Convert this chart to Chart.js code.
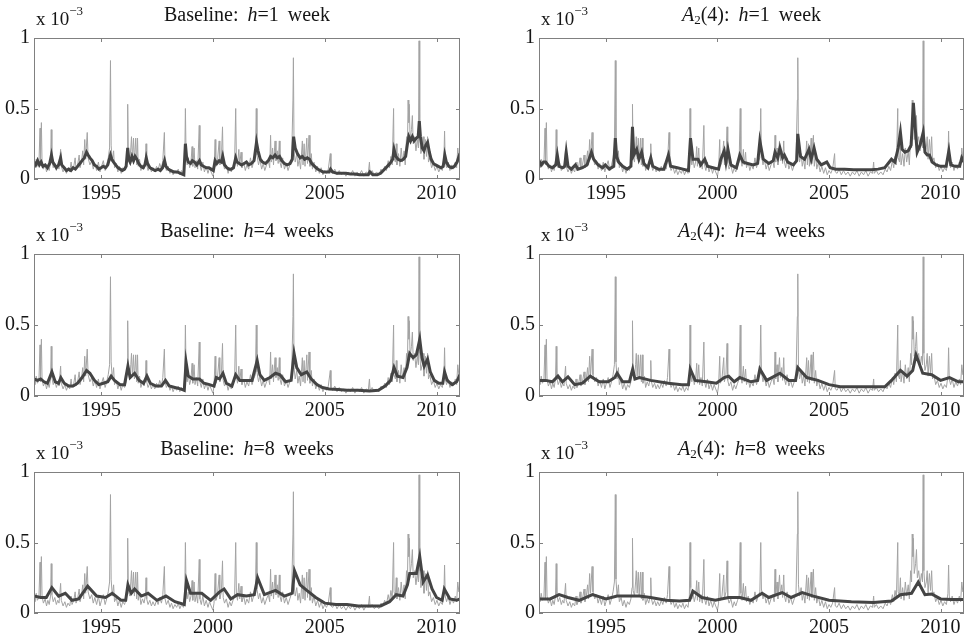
<!DOCTYPE html>
<html>
<head>
<meta charset="utf-8">
<script src="https://cdn.jsdelivr.net/npm/chart.js@4.4.1/dist/chart.umd.min.js"></script>
<style>
  html, body { margin: 0; padding: 0; background: #fff; }
  #wrap { position: relative; width: 966px; height: 640px; overflow: hidden; }
  #wrap canvas { position: absolute; }
  .ttl, .exp { position: absolute; font-family: "Liberation Serif", "DejaVu Serif", serif; font-size: 20px; line-height: 20px; color: #151515; white-space: nowrap; }
  .ttl { text-align: center; word-spacing: 4px; }
  .ttl i { font-style: italic; }
  .ttl sub { font-size: 13px; vertical-align: -3px; line-height: 0; }
  .exp { font-size: 19px; }
  .exp sup { font-size: 13px; position: relative; top: -10px; vertical-align: baseline; line-height: 0; }
</style>
</head>
<body>
<div id="wrap"></div>
<script>
// values in units of 1e-3, x in decimal years
const yearTicks = [1995, 2000, 2005, 2010];
const valueTicks = [0, 0.5, 1];

// realized series (grey, same in every panel)
const realized = [
  [1992.00, 0.12], [1992.05, 0.08], [1992.10, 0.14], [1992.15, 0.09], [1992.22, 0.11], [1992.27, 0.36],
  [1992.29, 0.10], [1992.33, 0.40], [1992.36, 0.12], [1992.42, 0.07], [1992.50, 0.10], [1992.56, 0.05],
  [1992.62, 0.09], [1992.68, 0.06], [1992.74, 0.12], [1992.77, 0.35], [1992.80, 0.13], [1992.86, 0.08],
  [1992.93, 0.11], [1993.00, 0.06], [1993.06, 0.09], [1993.12, 0.07], [1993.19, 0.21], [1993.22, 0.09],
  [1993.30, 0.05], [1993.38, 0.08], [1993.45, 0.04], [1993.52, 0.07], [1993.60, 0.05], [1993.66, 0.12],
  [1993.70, 0.06], [1993.78, 0.09], [1993.84, 0.15], [1993.88, 0.07], [1993.95, 0.10], [1994.02, 0.17],
  [1994.06, 0.08], [1994.12, 0.12], [1994.18, 0.20], [1994.22, 0.10], [1994.27, 0.28], [1994.31, 0.14],
  [1994.38, 0.33], [1994.42, 0.15], [1994.50, 0.10], [1994.58, 0.13], [1994.65, 0.07], [1994.72, 0.11],
  [1994.80, 0.06], [1994.88, 0.12], [1994.95, 0.05], [1995.02, 0.09], [1995.10, 0.13], [1995.18, 0.06],
  [1995.25, 0.10], [1995.32, 0.15], [1995.38, 0.22], [1995.42, 0.84], [1995.45, 0.24], [1995.50, 0.12],
  [1995.56, 0.20], [1995.60, 0.08], [1995.68, 0.11], [1995.75, 0.05], [1995.82, 0.09], [1995.90, 0.04],
  [1995.97, 0.08], [1996.05, 0.06], [1996.12, 0.10], [1996.17, 0.18], [1996.19, 0.53], [1996.22, 0.16],
  [1996.28, 0.12], [1996.33, 0.22], [1996.36, 0.30], [1996.40, 0.14], [1996.45, 0.29], [1996.49, 0.12],
  [1996.55, 0.29], [1996.59, 0.10], [1996.63, 0.29], [1996.66, 0.09], [1996.72, 0.14], [1996.78, 0.06],
  [1996.85, 0.10], [1996.92, 0.07], [1996.98, 0.12], [1997.01, 0.25], [1997.04, 0.10], [1997.10, 0.06],
  [1997.18, 0.09], [1997.25, 0.05], [1997.32, 0.08], [1997.40, 0.05], [1997.48, 0.09], [1997.55, 0.06],
  [1997.62, 0.11], [1997.70, 0.07], [1997.76, 0.13], [1997.83, 0.33], [1997.86, 0.10], [1997.92, 0.06],
  [1998.00, 0.09], [1998.08, 0.04], [1998.15, 0.07], [1998.22, 0.03], [1998.30, 0.06], [1998.38, 0.04],
  [1998.45, 0.07], [1998.52, 0.03], [1998.60, 0.06], [1998.68, 0.04], [1998.74, 0.12], [1998.77, 0.50],
  [1998.80, 0.18], [1998.85, 0.10], [1998.90, 0.15], [1998.96, 0.08], [1999.02, 0.12], [1999.07, 0.23],
  [1999.10, 0.09], [1999.16, 0.22], [1999.20, 0.08], [1999.26, 0.13], [1999.32, 0.07], [1999.39, 0.38],
  [1999.42, 0.10], [1999.48, 0.06], [1999.55, 0.12], [1999.62, 0.05], [1999.70, 0.09], [1999.78, 0.04],
  [1999.85, 0.08], [1999.92, 0.05], [2000.00, 0.02], [2000.05, 0.07], [2000.10, 0.28], [2000.13, 0.09],
  [2000.20, 0.12], [2000.28, 0.27], [2000.31, 0.10], [2000.38, 0.15], [2000.43, 0.37], [2000.46, 0.11],
  [2000.52, 0.07], [2000.60, 0.10], [2000.68, 0.04], [2000.75, 0.08], [2000.82, 0.05], [2000.90, 0.09],
  [2000.97, 0.12], [2001.02, 0.50], [2001.05, 0.14], [2001.10, 0.09], [2001.16, 0.21], [2001.20, 0.10],
  [2001.26, 0.19], [2001.30, 0.08], [2001.38, 0.12], [2001.45, 0.06], [2001.52, 0.10], [2001.60, 0.07],
  [2001.68, 0.15], [2001.75, 0.08], [2001.82, 0.12], [2001.90, 0.15], [2001.94, 0.50], [2001.97, 0.17],
  [2002.04, 0.10], [2002.10, 0.14], [2002.18, 0.07], [2002.25, 0.11], [2002.32, 0.06], [2002.40, 0.10],
  [2002.48, 0.13], [2002.54, 0.08], [2002.58, 0.31], [2002.61, 0.12], [2002.67, 0.22], [2002.71, 0.10],
  [2002.78, 0.27], [2002.82, 0.13], [2002.88, 0.20], [2002.92, 0.11], [2002.97, 0.27], [2003.00, 0.12],
  [2003.06, 0.08], [2003.12, 0.15], [2003.20, 0.07], [2003.28, 0.11], [2003.36, 0.06], [2003.44, 0.10],
  [2003.52, 0.14], [2003.58, 0.56], [2003.60, 0.86], [2003.63, 0.20], [2003.68, 0.12], [2003.75, 0.18],
  [2003.80, 0.09], [2003.86, 0.14], [2003.92, 0.07], [2004.00, 0.27], [2004.03, 0.10], [2004.08, 0.25],
  [2004.12, 0.09], [2004.20, 0.29], [2004.23, 0.11], [2004.30, 0.31], [2004.34, 0.09], [2004.40, 0.18],
  [2004.45, 0.07], [2004.52, 0.12], [2004.60, 0.05], [2004.68, 0.09], [2004.76, 0.04], [2004.84, 0.08],
  [2004.92, 0.03], [2005.00, 0.06], [2005.08, 0.04], [2005.16, 0.07], [2005.25, 0.18], [2005.28, 0.05],
  [2005.36, 0.04], [2005.45, 0.07], [2005.55, 0.03], [2005.65, 0.06], [2005.75, 0.03], [2005.85, 0.05],
  [2005.95, 0.02], [2006.05, 0.05], [2006.15, 0.03], [2006.25, 0.06], [2006.35, 0.02], [2006.45, 0.05],
  [2006.55, 0.03], [2006.65, 0.06], [2006.75, 0.02], [2006.85, 0.05], [2006.95, 0.04], [2007.00, 0.12],
  [2007.03, 0.04], [2007.12, 0.06], [2007.22, 0.03], [2007.32, 0.05], [2007.42, 0.03], [2007.52, 0.07],
  [2007.60, 0.05], [2007.68, 0.09], [2007.76, 0.06], [2007.84, 0.13], [2007.90, 0.08], [2007.96, 0.16],
  [2008.02, 0.10], [2008.08, 0.50], [2008.10, 0.15], [2008.16, 0.12], [2008.20, 0.25], [2008.23, 0.10],
  [2008.30, 0.18], [2008.36, 0.09], [2008.42, 0.22], [2008.48, 0.12], [2008.55, 0.20], [2008.60, 0.10],
  [2008.66, 0.30], [2008.70, 0.22], [2008.73, 0.56], [2008.76, 0.40], [2008.78, 0.53], [2008.82, 0.28],
  [2008.88, 0.35], [2008.92, 0.45], [2008.96, 0.25], [2009.02, 0.30], [2009.08, 0.20], [2009.14, 0.28],
  [2009.19, 0.22], [2009.22, 0.98], [2009.25, 0.30], [2009.30, 0.18], [2009.36, 0.22], [2009.40, 0.30],
  [2009.44, 0.14], [2009.50, 0.28], [2009.55, 0.16], [2009.60, 0.30], [2009.64, 0.12], [2009.70, 0.15],
  [2009.78, 0.08], [2009.86, 0.11], [2009.94, 0.06], [2010.02, 0.09], [2010.10, 0.05], [2010.18, 0.08],
  [2010.26, 0.06], [2010.33, 0.14], [2010.36, 0.34], [2010.39, 0.12], [2010.45, 0.08], [2010.52, 0.12],
  [2010.60, 0.06], [2010.68, 0.10], [2010.76, 0.07], [2010.84, 0.12], [2010.90, 0.08], [2010.95, 0.22],
  [2011.00, 0.15], [2011.05, 0.20]
];

// Baseline forecasts
const baseH1 = [
  [1992.00, 0.12], [1992.08, 0.10], [1992.16, 0.13], [1992.24, 0.10], [1992.32, 0.12], [1992.40, 0.09],
  [1992.50, 0.10], [1992.60, 0.08], [1992.70, 0.11], [1992.78, 0.17], [1992.84, 0.12], [1992.92, 0.10],
  [1993.00, 0.08], [1993.10, 0.10], [1993.19, 0.15], [1993.24, 0.10], [1993.35, 0.08], [1993.45, 0.06],
  [1993.55, 0.07], [1993.65, 0.06], [1993.75, 0.08], [1993.85, 0.07], [1993.95, 0.09], [1994.05, 0.11],
  [1994.15, 0.13], [1994.25, 0.15], [1994.35, 0.19], [1994.42, 0.17], [1994.50, 0.15], [1994.60, 0.13],
  [1994.70, 0.10], [1994.80, 0.09], [1994.90, 0.07], [1995.00, 0.08], [1995.10, 0.09], [1995.20, 0.08],
  [1995.30, 0.10], [1995.42, 0.17], [1995.48, 0.14], [1995.56, 0.12], [1995.65, 0.10], [1995.75, 0.08],
  [1995.85, 0.07], [1995.95, 0.06], [1996.05, 0.07], [1996.12, 0.09], [1996.19, 0.22], [1996.24, 0.14],
  [1996.30, 0.12], [1996.38, 0.16], [1996.45, 0.13], [1996.52, 0.16], [1996.60, 0.14], [1996.68, 0.11],
  [1996.78, 0.09], [1996.88, 0.08], [1996.96, 0.10], [1997.02, 0.15], [1997.08, 0.11], [1997.18, 0.08],
  [1997.30, 0.07], [1997.42, 0.06], [1997.55, 0.07], [1997.65, 0.06], [1997.75, 0.08], [1997.84, 0.13],
  [1997.90, 0.09], [1998.00, 0.07], [1998.12, 0.06], [1998.25, 0.05], [1998.40, 0.05], [1998.55, 0.04],
  [1998.70, 0.03], [1998.77, 0.25], [1998.82, 0.16], [1998.90, 0.12], [1999.00, 0.11], [1999.08, 0.13],
  [1999.18, 0.12], [1999.28, 0.10], [1999.40, 0.13], [1999.48, 0.10], [1999.58, 0.09], [1999.70, 0.08],
  [1999.82, 0.08], [1999.92, 0.07], [2000.02, 0.06], [2000.10, 0.13], [2000.18, 0.11], [2000.28, 0.13],
  [2000.38, 0.12], [2000.44, 0.16], [2000.52, 0.10], [2000.62, 0.08], [2000.72, 0.07], [2000.82, 0.07],
  [2000.92, 0.08], [2001.02, 0.15], [2001.08, 0.12], [2001.18, 0.11], [2001.28, 0.10], [2001.40, 0.11],
  [2001.50, 0.12], [2001.60, 0.10], [2001.72, 0.11], [2001.84, 0.13], [2001.95, 0.26], [2002.02, 0.20],
  [2002.12, 0.14], [2002.22, 0.12], [2002.35, 0.11], [2002.48, 0.13], [2002.58, 0.16], [2002.68, 0.15],
  [2002.78, 0.17], [2002.88, 0.15], [2002.98, 0.16], [2003.08, 0.13], [2003.20, 0.11], [2003.32, 0.10],
  [2003.45, 0.11], [2003.55, 0.14], [2003.61, 0.30], [2003.68, 0.22], [2003.78, 0.18], [2003.90, 0.15],
  [2004.00, 0.16], [2004.10, 0.14], [2004.22, 0.15], [2004.32, 0.14], [2004.42, 0.11], [2004.55, 0.09],
  [2004.68, 0.07], [2004.80, 0.06], [2004.92, 0.05], [2005.05, 0.05], [2005.20, 0.05], [2005.26, 0.07],
  [2005.35, 0.05], [2005.55, 0.04], [2005.75, 0.04], [2005.95, 0.04], [2006.15, 0.035], [2006.35, 0.035],
  [2006.55, 0.03], [2006.75, 0.03], [2006.95, 0.03], [2007.02, 0.05], [2007.15, 0.03], [2007.35, 0.03],
  [2007.50, 0.04], [2007.62, 0.06], [2007.74, 0.08], [2007.86, 0.10], [2007.96, 0.12], [2008.04, 0.14],
  [2008.10, 0.21], [2008.18, 0.16], [2008.28, 0.14], [2008.40, 0.13], [2008.52, 0.14], [2008.62, 0.16],
  [2008.70, 0.25], [2008.76, 0.30], [2008.84, 0.27], [2008.92, 0.30], [2009.00, 0.27], [2009.10, 0.29],
  [2009.18, 0.30], [2009.23, 0.41], [2009.28, 0.30], [2009.36, 0.22], [2009.44, 0.20], [2009.52, 0.24],
  [2009.60, 0.26], [2009.68, 0.19], [2009.76, 0.14], [2009.86, 0.11], [2009.96, 0.10], [2010.08, 0.09],
  [2010.20, 0.08], [2010.30, 0.09], [2010.37, 0.17], [2010.44, 0.12], [2010.55, 0.09], [2010.68, 0.08],
  [2010.80, 0.09], [2010.92, 0.12], [2011.00, 0.16], [2011.05, 0.18]
];

const baseH4 = [
  [1992.00, 0.12], [1992.15, 0.11], [1992.30, 0.12], [1992.45, 0.10], [1992.60, 0.09], [1992.80, 0.17],
  [1992.95, 0.10], [1993.10, 0.09], [1993.20, 0.13], [1993.35, 0.09], [1993.55, 0.07], [1993.75, 0.07],
  [1993.95, 0.09], [1994.15, 0.13], [1994.35, 0.18], [1994.50, 0.16], [1994.70, 0.11], [1994.90, 0.08],
  [1995.10, 0.09], [1995.30, 0.10], [1995.45, 0.14], [1995.60, 0.11], [1995.85, 0.08], [1996.05, 0.08],
  [1996.20, 0.21], [1996.30, 0.13], [1996.50, 0.16], [1996.70, 0.11], [1996.90, 0.09], [1997.05, 0.14],
  [1997.20, 0.09], [1997.45, 0.07], [1997.70, 0.07], [1997.88, 0.11], [1998.05, 0.07], [1998.30, 0.06],
  [1998.55, 0.05], [1998.72, 0.04], [1998.80, 0.24], [1998.90, 0.14], [1999.10, 0.12], [1999.40, 0.12],
  [1999.60, 0.09], [1999.85, 0.08], [2000.05, 0.07], [2000.15, 0.13], [2000.30, 0.12], [2000.45, 0.16],
  [2000.60, 0.09], [2000.85, 0.07], [2001.02, 0.15], [2001.20, 0.11], [2001.45, 0.11], [2001.75, 0.11],
  [2001.98, 0.25], [2002.10, 0.15], [2002.30, 0.11], [2002.55, 0.13], [2002.80, 0.16], [2003.00, 0.15],
  [2003.25, 0.10], [2003.50, 0.11], [2003.63, 0.30], [2003.75, 0.20], [2003.95, 0.15], [2004.20, 0.17],
  [2004.40, 0.12], [2004.65, 0.08], [2004.90, 0.06], [2005.20, 0.05], [2005.60, 0.045], [2006.00, 0.04],
  [2006.50, 0.04], [2007.00, 0.035], [2007.40, 0.04], [2007.70, 0.07], [2007.95, 0.11], [2008.10, 0.20],
  [2008.25, 0.14], [2008.50, 0.13], [2008.68, 0.20], [2008.80, 0.30], [2008.95, 0.27], [2009.10, 0.29],
  [2009.25, 0.40], [2009.35, 0.27], [2009.45, 0.21], [2009.60, 0.26], [2009.72, 0.17], [2009.90, 0.11],
  [2010.10, 0.09], [2010.28, 0.09], [2010.36, 0.17], [2010.48, 0.11], [2010.70, 0.08], [2010.90, 0.10],
  [2011.05, 0.15]
];

const baseH8 = [
  [1992.00, 0.12], [1992.30, 0.11], [1992.55, 0.11], [1992.80, 0.18], [1993.10, 0.12], [1993.40, 0.14],
  [1993.70, 0.09], [1994.00, 0.10], [1994.40, 0.19], [1994.80, 0.12], [1995.20, 0.11], [1995.50, 0.14],
  [1995.90, 0.09], [1996.10, 0.09], [1996.20, 0.20], [1996.35, 0.14], [1996.50, 0.17], [1996.80, 0.12],
  [1997.10, 0.14], [1997.50, 0.09], [1997.90, 0.12], [1998.30, 0.08], [1998.72, 0.06], [1998.82, 0.23],
  [1999.00, 0.14], [1999.50, 0.14], [1999.90, 0.09], [2000.30, 0.15], [2000.50, 0.17], [2000.80, 0.10],
  [2001.10, 0.13], [2001.50, 0.12], [2001.85, 0.13], [2002.00, 0.25], [2002.30, 0.13], [2002.80, 0.16],
  [2003.20, 0.12], [2003.55, 0.14], [2003.65, 0.30], [2003.90, 0.20], [2004.20, 0.16], [2004.60, 0.11],
  [2005.00, 0.07], [2005.50, 0.06], [2006.00, 0.06], [2006.50, 0.05], [2007.00, 0.05], [2007.50, 0.05],
  [2007.90, 0.08], [2008.20, 0.13], [2008.50, 0.12], [2008.70, 0.20], [2008.80, 0.28], [2009.10, 0.28],
  [2009.25, 0.40], [2009.40, 0.22], [2009.60, 0.27], [2009.80, 0.17], [2010.00, 0.11], [2010.25, 0.09],
  [2010.35, 0.17], [2010.60, 0.10], [2010.90, 0.09], [2011.05, 0.10]
];

// A2(4) forecasts
const a24H1 = [
  [1992.00, 0.13], [1992.10, 0.10], [1992.20, 0.12], [1992.30, 0.12], [1992.45, 0.09], [1992.60, 0.08],
  [1992.75, 0.10], [1992.82, 0.17], [1992.90, 0.09], [1993.05, 0.08], [1993.15, 0.09], [1993.22, 0.19],
  [1993.30, 0.09], [1993.45, 0.07], [1993.63, 0.10], [1993.75, 0.07], [1993.95, 0.08], [1994.15, 0.10],
  [1994.35, 0.19], [1994.45, 0.14], [1994.65, 0.10], [1994.85, 0.08], [1994.97, 0.10], [1995.15, 0.07],
  [1995.35, 0.09], [1995.42, 0.29], [1995.48, 0.16], [1995.57, 0.12], [1995.75, 0.09], [1995.95, 0.07],
  [1996.12, 0.09], [1996.19, 0.37], [1996.25, 0.17], [1996.38, 0.21], [1996.48, 0.14], [1996.60, 0.19],
  [1996.70, 0.11], [1996.88, 0.08], [1997.01, 0.15], [1997.10, 0.09], [1997.35, 0.07], [1997.60, 0.07],
  [1997.80, 0.17], [1997.90, 0.09], [1998.20, 0.08], [1998.45, 0.07], [1998.70, 0.06], [1998.79, 0.29],
  [1998.90, 0.14], [1999.13, 0.14], [1999.25, 0.10], [1999.43, 0.14], [1999.55, 0.09], [1999.80, 0.08],
  [2000.05, 0.07], [2000.15, 0.14], [2000.30, 0.20], [2000.38, 0.12], [2000.47, 0.21], [2000.60, 0.10],
  [2000.85, 0.08], [2001.00, 0.17], [2001.15, 0.12], [2001.35, 0.11], [2001.60, 0.10], [2001.80, 0.11],
  [2001.90, 0.27], [2002.05, 0.14], [2002.30, 0.11], [2002.50, 0.13], [2002.58, 0.19], [2002.70, 0.15],
  [2002.80, 0.22], [2002.92, 0.15], [2003.00, 0.17], [2003.15, 0.12], [2003.40, 0.10], [2003.55, 0.13],
  [2003.60, 0.32], [2003.72, 0.16], [2003.90, 0.14], [2004.10, 0.21], [2004.20, 0.14], [2004.33, 0.22],
  [2004.45, 0.14], [2004.65, 0.10], [2004.90, 0.12], [2005.05, 0.08], [2005.30, 0.07], [2005.70, 0.07],
  [2006.10, 0.065], [2006.50, 0.065], [2006.90, 0.065], [2007.20, 0.07], [2007.50, 0.08], [2007.80, 0.14],
  [2007.95, 0.12], [2008.10, 0.22], [2008.20, 0.33], [2008.28, 0.21], [2008.40, 0.19], [2008.55, 0.20],
  [2008.68, 0.24], [2008.78, 0.54], [2008.86, 0.37], [2008.95, 0.19], [2009.08, 0.24], [2009.22, 0.33],
  [2009.30, 0.19], [2009.40, 0.17], [2009.50, 0.17], [2009.62, 0.12], [2009.80, 0.10], [2010.00, 0.09],
  [2010.25, 0.09], [2010.37, 0.20], [2010.46, 0.10], [2010.65, 0.09], [2010.85, 0.09], [2010.95, 0.15],
  [2011.05, 0.12]
];

const a24H4 = [
  [1992.00, 0.11], [1992.30, 0.11], [1992.60, 0.10], [1992.85, 0.14], [1993.05, 0.10], [1993.30, 0.135],
  [1993.60, 0.08], [1993.95, 0.09], [1994.30, 0.14], [1994.70, 0.10], [1995.10, 0.10], [1995.40, 0.13],
  [1995.50, 0.16], [1995.75, 0.10], [1996.05, 0.10], [1996.20, 0.19], [1996.30, 0.12], [1996.50, 0.13],
  [1997.00, 0.11], [1997.80, 0.09], [1998.40, 0.08], [1998.70, 0.08], [1998.78, 0.19], [1999.00, 0.11],
  [1999.50, 0.10], [1999.95, 0.09], [2000.30, 0.13], [2000.50, 0.14], [2000.75, 0.10], [2001.00, 0.13],
  [2001.50, 0.10], [2001.80, 0.11], [2001.90, 0.19], [2002.20, 0.11], [2002.80, 0.16], [2003.20, 0.11],
  [2003.50, 0.11], [2003.60, 0.20], [2004.00, 0.13], [2004.50, 0.11], [2005.00, 0.08], [2005.50, 0.065],
  [2006.50, 0.065], [2007.50, 0.065], [2007.80, 0.11], [2008.20, 0.18], [2008.50, 0.14], [2008.75, 0.18],
  [2008.90, 0.29], [2009.20, 0.16], [2009.60, 0.15], [2010.00, 0.11], [2010.40, 0.13], [2010.80, 0.10],
  [2011.05, 0.10]
];

const a24H8 = [
  [1992.00, 0.10], [1992.50, 0.10], [1992.90, 0.13], [1993.30, 0.11], [1993.80, 0.09], [1994.40, 0.13],
  [1995.00, 0.10], [1995.50, 0.12], [1996.20, 0.12], [1996.50, 0.12], [1997.00, 0.11], [1997.70, 0.09],
  [1998.30, 0.085], [1998.75, 0.09], [1998.90, 0.155], [1999.30, 0.11], [1999.90, 0.09], [2000.50, 0.11],
  [2001.00, 0.11], [2001.50, 0.09], [2002.00, 0.14], [2002.30, 0.11], [2002.90, 0.145], [2003.30, 0.11],
  [2003.80, 0.145], [2004.30, 0.12], [2005.00, 0.09], [2006.00, 0.08], [2007.00, 0.075], [2007.80, 0.085],
  [2008.20, 0.13], [2008.70, 0.14], [2009.00, 0.22], [2009.30, 0.13], [2009.60, 0.135], [2010.00, 0.10],
  [2010.50, 0.095], [2011.05, 0.095]
];

const panels = [
  { name: 'Baseline', h: '1 week', series: baseH1, col: 0, row: 0 },
  { name: 'A2(4)', h: '1 week', series: a24H1, col: 1, row: 0 },
  { name: 'Baseline', h: '4 weeks', series: baseH4, col: 0, row: 1 },
  { name: 'A2(4)', h: '4 weeks', series: a24H4, col: 1, row: 1 },
  { name: 'Baseline', h: '8 weeks', series: baseH8, col: 0, row: 2 },
  { name: 'A2(4)', h: '8 weeks', series: a24H8, col: 1, row: 2 },
];

// plot-area geometry
const colBox = [{ left: 34, right: 460 }, { left: 539, right: 964 }];
const rowBox = [{ top: 32, bottom: 179 }, { top: 248, bottom: 396 }, { top: 466, bottom: 613 }];
const PAD_TOP = 10, AXIS_W = 34, AXIS_H = 27, PAD_R = 2;

const serif = '"Liberation Serif", "DejaVu Serif", serif';
const frameColor = '#808080';

const toXY = s => s.map(([x, y]) => ({ x, y }));

// MATLAB-ish box with inward tick marks
const framePlugin = {
  id: 'frame',
  afterDatasetsDraw(chart) {
    const { ctx, chartArea: a, scales } = chart;
    const tl = 4;
    ctx.save();
    ctx.strokeStyle = frameColor;
    ctx.lineWidth = 1;
    ctx.beginPath();
    yearTicks.forEach(v => {
      const px = Math.round(scales.x.getPixelForValue(v)) + 0.5;
      ctx.moveTo(px, a.bottom); ctx.lineTo(px, a.bottom - tl);
      ctx.moveTo(px, a.top); ctx.lineTo(px, a.top + tl);
    });
    valueTicks.forEach(v => {
      const py = Math.round(scales.y.getPixelForValue(v)) + 0.5;
      ctx.moveTo(a.left, py); ctx.lineTo(a.left + tl, py);
      ctx.moveTo(a.right, py); ctx.lineTo(a.right - tl, py);
    });
    ctx.stroke();
    ctx.strokeRect(Math.round(a.left) + 0.5, Math.round(a.top) + 0.5,
      Math.round(a.right - a.left) - 1, Math.round(a.bottom - a.top) - 1);
    ctx.restore();
  }
};

const wrap = document.getElementById('wrap');

function addText(cls, html, left, top, width) {
  const d = document.createElement('div');
  d.className = cls;
  d.innerHTML = html;
  d.style.left = left + 'px';
  d.style.top = top + 'px';
  if (width) d.style.width = width + 'px';
  wrap.appendChild(d);
}

panels.forEach(p => {
  const c = colBox[p.col], r = rowBox[p.row];
  const canvas = document.createElement('canvas');
  const cl = c.left - AXIS_W, ct = r.top - PAD_TOP;
  const w = c.right - c.left + AXIS_W + PAD_R, h = r.bottom - r.top + PAD_TOP + AXIS_H;
  canvas.width = w; canvas.height = h;
  canvas.style.left = cl + 'px'; canvas.style.top = ct + 'px';
  canvas.style.width = w + 'px'; canvas.style.height = h + 'px';
  wrap.appendChild(canvas);

  new Chart(canvas, {
    type: 'line',
    data: {
      datasets: [
        { data: toXY(p.series), borderColor: '#444444', borderWidth: 3, pointRadius: 0, tension: 0 },
        { data: toXY(realized), borderColor: '#a3a3a3', borderWidth: 1, pointRadius: 0, tension: 0 },
      ],
    },
    options: {
      responsive: false,
      animation: false,
      devicePixelRatio: 1,
      layout: { padding: { top: PAD_TOP, right: PAD_R, left: 0, bottom: 0 } },
      plugins: { legend: { display: false }, tooltip: { enabled: false }, title: { display: false } },
      scales: {
        x: {
          type: 'linear', min: 1992.0, max: 2011.05,
          grid: { display: false, drawTicks: false }, border: { display: false },
          afterBuildTicks: s => { s.ticks = yearTicks.map(v => ({ value: v })); },
          afterFit: s => { s.height = AXIS_H; },
          ticks: { color: '#151515', padding: 3, maxRotation: 0, font: { family: serif, size: 20 }, callback: v => String(v) },
        },
        y: {
          min: 0, max: 1,
          grid: { display: false, drawTicks: false }, border: { display: false },
          afterBuildTicks: s => { s.ticks = valueTicks.map(v => ({ value: v })); },
          afterFit: s => { s.width = AXIS_W; },
          ticks: { color: '#151515', padding: 4, font: { family: serif, size: 20 }, callback: v => String(v) },
        },
      },
    },
    plugins: [framePlugin],
  });

  const nameHtml = p.name === 'A2(4)' ? '<i>A</i><sub>2</sub>(4):' : 'Baseline:';
  addText('ttl', nameHtml + ' <i>h</i>=' + p.h, c.left, r.top - 11 - 17, c.right - c.left);
  addText('exp', 'x 10<sup>\u22123</sup>', c.left + 2, r.top - 7 - 16);
});
</script>
</body>
</html>
